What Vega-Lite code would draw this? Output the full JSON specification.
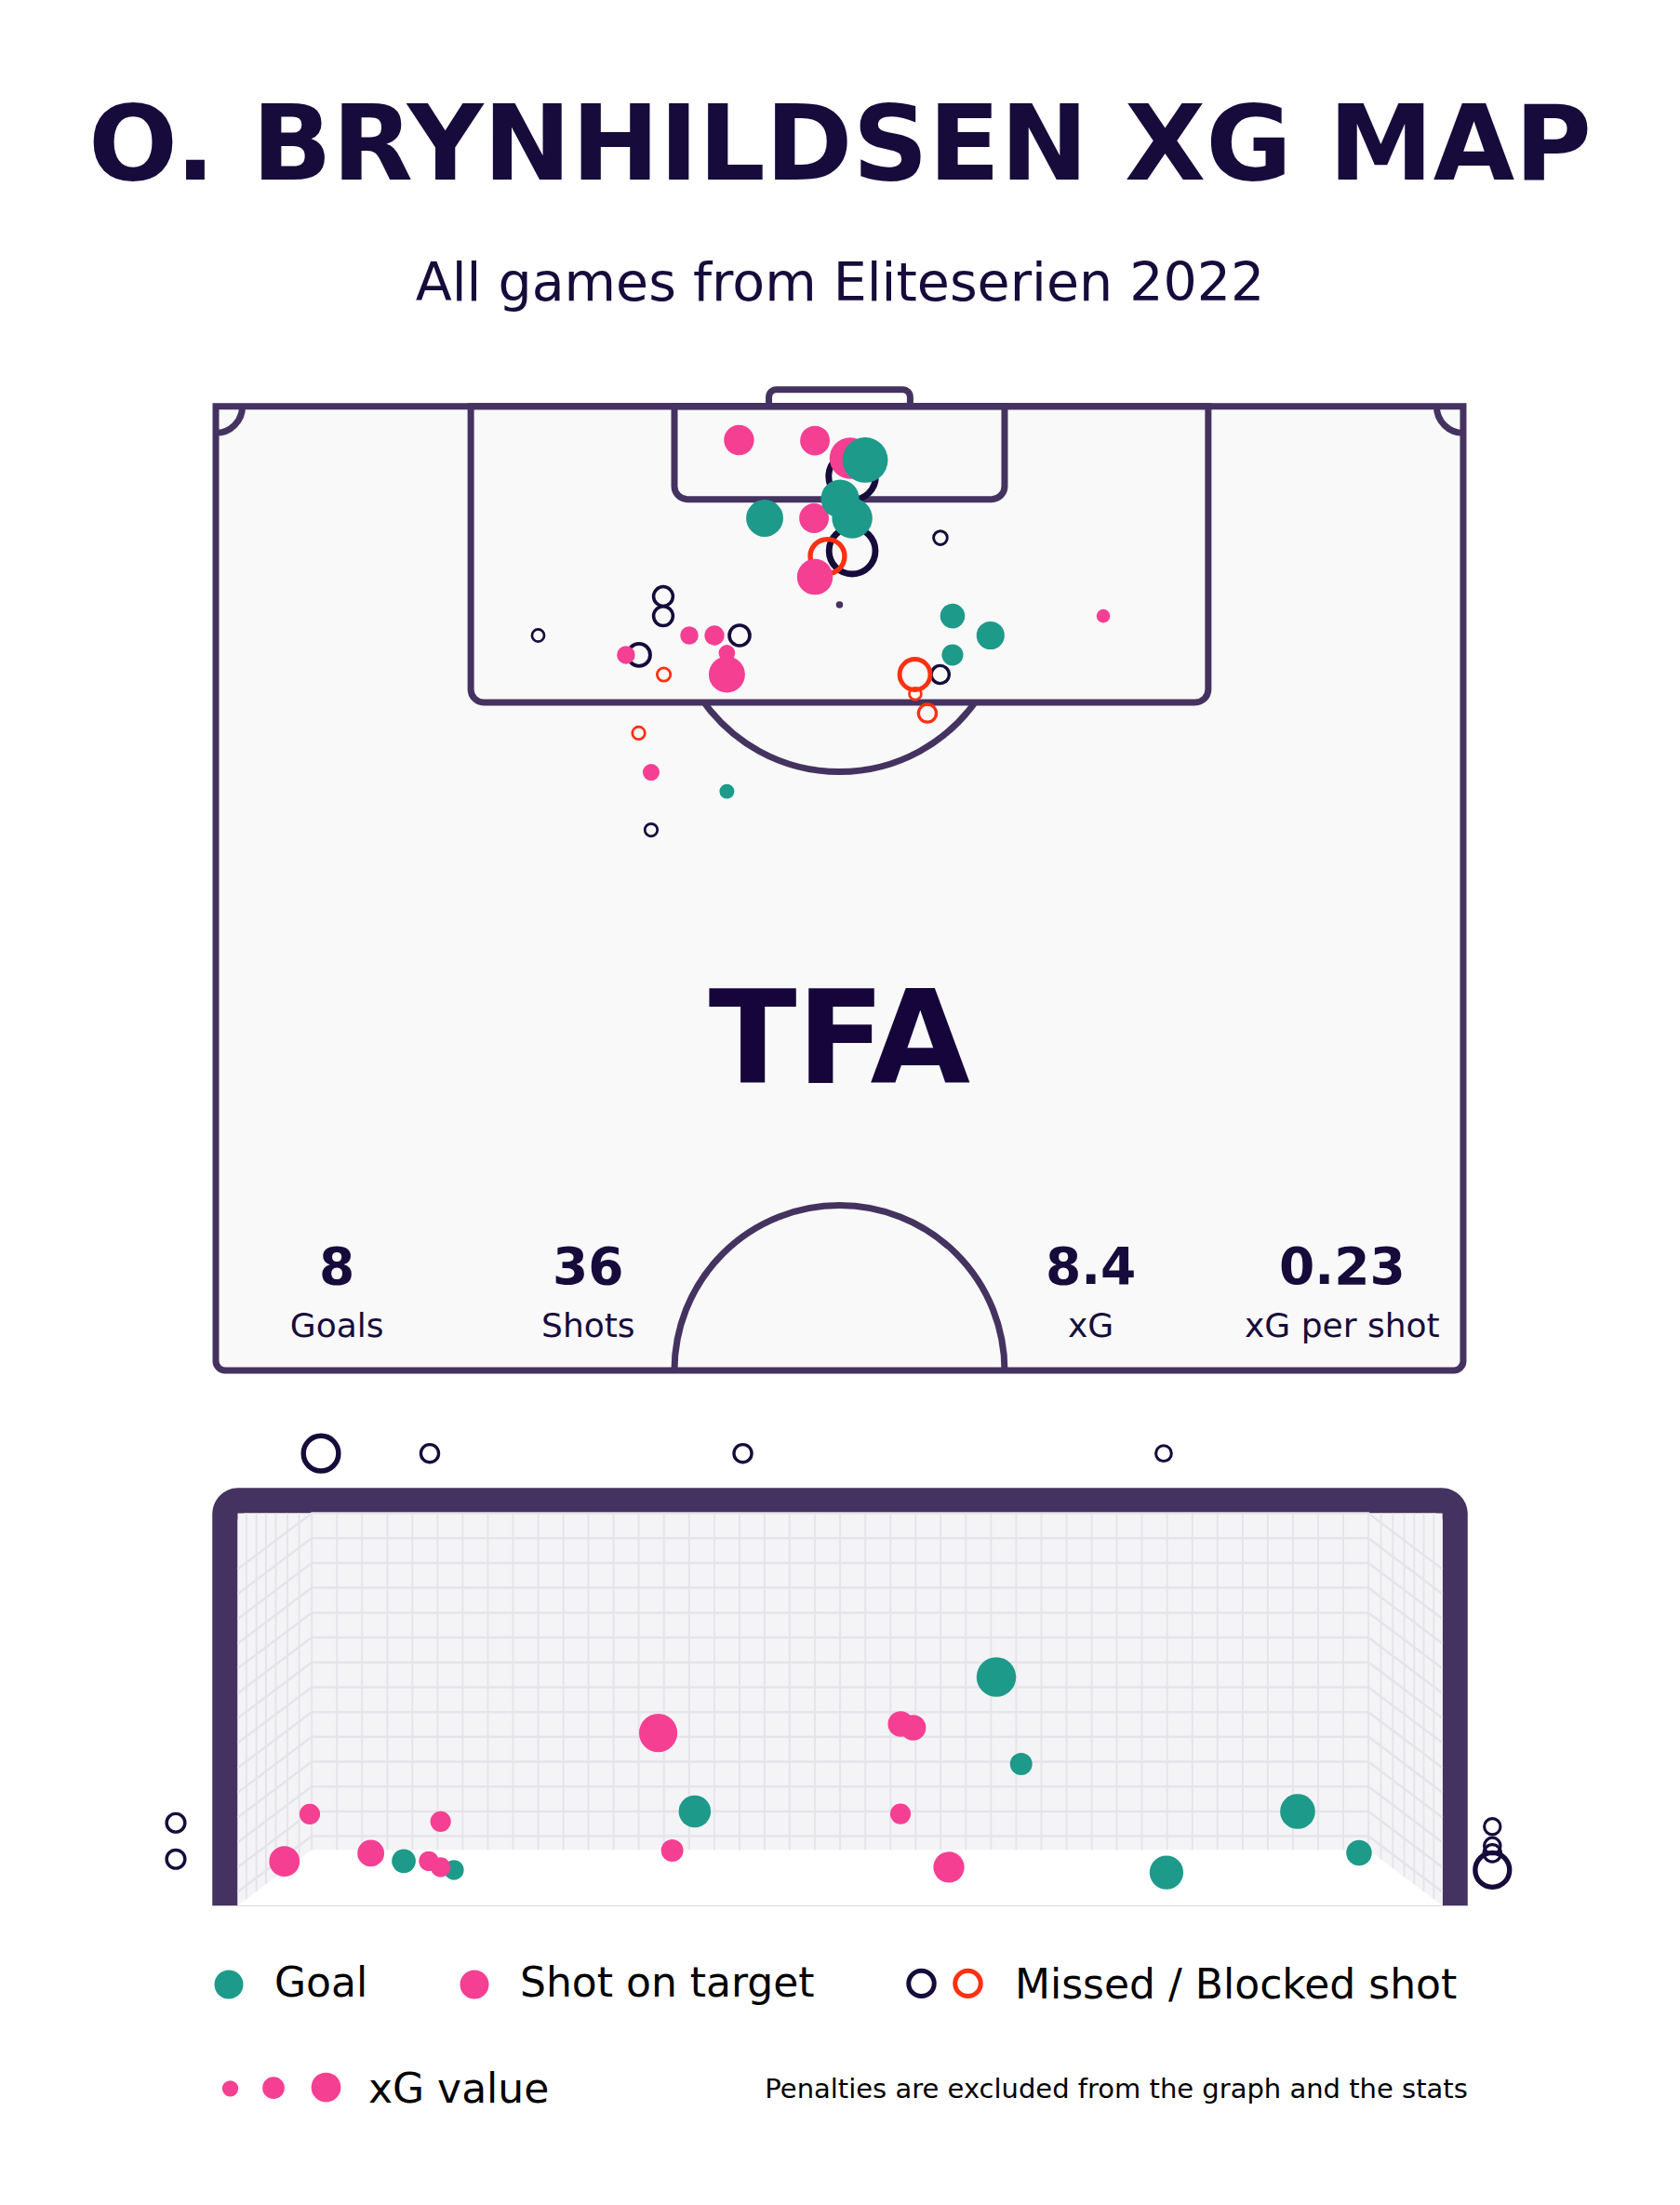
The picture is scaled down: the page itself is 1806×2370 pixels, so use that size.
{
  "$schema": "https://vega.github.io/schema/vega-lite/v6.json",
  "width": 1806,
  "height": 1990,
  "autosize": {"type": "none"},
  "padding": {"left": 0, "top": 380, "right": 0, "bottom": 0},
  "background": "white",
  "title": {
    "text": "O. BRYNHILDSEN XG MAP",
    "subtitle": "All games from Eliteserien 2022",
    "anchor": "middle",
    "font": "DejaVu Sans",
    "fontSize": 113,
    "fontWeight": "bold",
    "color": "#170b3b",
    "subtitleFont": "DejaVu Sans",
    "subtitleFontSize": 57,
    "subtitleFontWeight": "normal",
    "subtitleColor": "#170b3b",
    "subtitlePadding": 61,
    "offset": 45
  },
  "config": {
    "font": "DejaVu Sans",
    "view": {"stroke": null},
    "axis": {"disable": true},
    "legend": {"labelFont": "DejaVu Sans", "titleFont": "DejaVu Sans", "labelColor": "#000000", "titleColor": "#000000", "padding": 0}
  },
  "datasets": {
    "pitch_lines": [
      {"feature": "goal", "x": 30.15, "x2": 37.85, "y": -0.91, "y2": 0},
      {"feature": "pitch", "x": 0, "x2": 68, "y": 0, "y2": 52.55},
      {"feature": "penalty area", "x": 13.9, "x2": 54.1, "y": 0, "y2": 16.14},
      {"feature": "six-yard box", "x": 25.0, "x2": 43.0, "y": 0, "y2": 5.07}
    ],
    "pitch_arcs": [
      {"feature": "penalty arc", "x": 34, "y": 10.82, "r": 9.1, "t1": 2.1955, "t2": 4.0877},
      {"feature": "centre circle", "x": 34, "y": 52.55, "r": 9.0, "t1": -1.5708, "t2": 1.5708},
      {"feature": "corner arc", "x": 0, "y": 0, "r": 1.45, "t1": 1.5708, "t2": 3.1416},
      {"feature": "corner arc", "x": 68, "y": 0, "r": 1.45, "t1": 3.1416, "t2": 4.7124}
    ],
    "pitch_spots": [{"feature": "penalty spot", "x": 34, "y": 10.82}],
    "pitch_labels": [{"logo": "TFA", "x": 34, "y": 36.88}],
    "stats": [
      {"stat": "Goals", "value": "8", "x": 6.6, "y": 47.83},
      {"stat": "Shots", "value": "36", "x": 20.3, "y": 47.83},
      {"stat": "xG", "value": "8.4", "x": 47.7, "y": 47.83},
      {"stat": "xG per shot", "value": "0.23", "x": 61.4, "y": 47.83}
    ],
    "notes": [{"note": "Penalties are excluded from the graph and the stats", "gx": 3.813, "gy": -1.196}],
    "pitch_shots": [
      {"outcome": "Missed", "x": 34.69, "y": 3.82, "xg": 0.685},
      {"outcome": "Missed", "x": 34.69, "y": 7.88, "xg": 0.664},
      {"outcome": "Missed", "x": 24.39, "y": 10.36, "xg": 0.116},
      {"outcome": "Missed", "x": 24.39, "y": 11.43, "xg": 0.116},
      {"outcome": "Missed", "x": 17.57, "y": 12.49, "xg": 0.046},
      {"outcome": "Missed", "x": 28.55, "y": 12.49, "xg": 0.129},
      {"outcome": "Missed", "x": 23.07, "y": 13.55, "xg": 0.154},
      {"outcome": "Missed", "x": 23.73, "y": 23.09, "xg": 0.049},
      {"outcome": "Missed", "x": 39.5, "y": 7.17, "xg": 0.058},
      {"outcome": "Missed", "x": 39.49, "y": 14.62, "xg": 0.098},
      {"outcome": "Blocked", "x": 33.34, "y": 8.18, "xg": 0.364},
      {"outcome": "Blocked", "x": 24.42, "y": 14.62, "xg": 0.055},
      {"outcome": "Blocked", "x": 23.05, "y": 17.81, "xg": 0.049},
      {"outcome": "Blocked", "x": 38.11, "y": 14.62, "xg": 0.289},
      {"outcome": "Blocked", "x": 38.13, "y": 15.67, "xg": 0.044},
      {"outcome": "Blocked", "x": 38.79, "y": 16.73, "xg": 0.098},
      {"outcome": "Shot on target", "x": 28.52, "y": 1.84, "xg": 0.28},
      {"outcome": "Shot on target", "x": 32.66, "y": 1.87, "xg": 0.272},
      {"outcome": "Shot on target", "x": 34.58, "y": 2.83, "xg": 0.526},
      {"outcome": "Shot on target", "x": 32.61, "y": 6.1, "xg": 0.272},
      {"outcome": "Shot on target", "x": 32.66, "y": 9.3, "xg": 0.398},
      {"outcome": "Shot on target", "x": 25.81, "y": 12.49, "xg": 0.102},
      {"outcome": "Shot on target", "x": 27.18, "y": 12.49, "xg": 0.121},
      {"outcome": "Shot on target", "x": 22.36, "y": 13.55, "xg": 0.102},
      {"outcome": "Shot on target", "x": 27.86, "y": 13.45, "xg": 0.084},
      {"outcome": "Shot on target", "x": 27.86, "y": 14.62, "xg": 0.407},
      {"outcome": "Shot on target", "x": 23.73, "y": 19.95, "xg": 0.088},
      {"outcome": "Shot on target", "x": 48.38, "y": 11.43, "xg": 0.057},
      {"outcome": "Goal", "x": 35.4, "y": 2.93, "xg": 0.636},
      {"outcome": "Goal", "x": 29.92, "y": 6.1, "xg": 0.426},
      {"outcome": "Goal", "x": 34.03, "y": 5.04, "xg": 0.454},
      {"outcome": "Goal", "x": 34.69, "y": 6.1, "xg": 0.505},
      {"outcome": "Goal", "x": 27.86, "y": 20.99, "xg": 0.068},
      {"outcome": "Goal", "x": 40.16, "y": 11.43, "xg": 0.189},
      {"outcome": "Goal", "x": 42.23, "y": 12.49, "xg": 0.243},
      {"outcome": "Goal", "x": 40.16, "y": 13.55, "xg": 0.142}
    ],
    "goal_frame": [
      {"part": "frame", "gx": -3.814, "gx2": 3.813, "gy": 0, "gy2": 2.598},
      {"part": "mouth", "gx": -3.66, "gx2": 3.66, "gy": 0, "gy2": 2.44}
    ],
    "net_surface": [
      {"gx": -3.66, "gy": 0, "gy2": 2.44},
      {"gx": -3.21, "gy": 0.347, "gy2": 2.44},
      {"gx": 3.21, "gy": 0.347, "gy2": 2.44},
      {"gx": 3.66, "gy": 0, "gy2": 2.44}
    ],
    "net_strings_vertical": [
      {"gx": -3.607, "gy": 0.041}, {"gx": -3.546, "gy": 0.088}, {"gx": -3.488, "gy": 0.133},
      {"gx": -3.428, "gy": 0.179}, {"gx": -3.358, "gy": 0.233}, {"gx": -3.286, "gy": 0.288},
      {"gx": 3.607, "gy": 0.041}, {"gx": 3.546, "gy": 0.088}, {"gx": 3.488, "gy": 0.133},
      {"gx": 3.428, "gy": 0.179}, {"gx": 3.358, "gy": 0.233}, {"gx": 3.286, "gy": 0.288},
      {"gx": -3.21, "gy": 0.347}, {"gx": -3.057, "gy": 0.347}, {"gx": -2.904, "gy": 0.347},
      {"gx": -2.751, "gy": 0.347}, {"gx": -2.599, "gy": 0.347}, {"gx": -2.446, "gy": 0.347},
      {"gx": -2.293, "gy": 0.347}, {"gx": -2.14, "gy": 0.347}, {"gx": -1.987, "gy": 0.347},
      {"gx": -1.834, "gy": 0.347}, {"gx": -1.681, "gy": 0.347}, {"gx": -1.529, "gy": 0.347},
      {"gx": -1.376, "gy": 0.347}, {"gx": -1.223, "gy": 0.347}, {"gx": -1.07, "gy": 0.347},
      {"gx": -0.917, "gy": 0.347}, {"gx": -0.764, "gy": 0.347}, {"gx": -0.611, "gy": 0.347},
      {"gx": -0.459, "gy": 0.347}, {"gx": -0.306, "gy": 0.347}, {"gx": -0.153, "gy": 0.347},
      {"gx": 0, "gy": 0.347}, {"gx": 0.153, "gy": 0.347}, {"gx": 0.306, "gy": 0.347},
      {"gx": 0.459, "gy": 0.347}, {"gx": 0.611, "gy": 0.347}, {"gx": 0.764, "gy": 0.347},
      {"gx": 0.917, "gy": 0.347}, {"gx": 1.07, "gy": 0.347}, {"gx": 1.223, "gy": 0.347},
      {"gx": 1.376, "gy": 0.347}, {"gx": 1.529, "gy": 0.347}, {"gx": 1.681, "gy": 0.347},
      {"gx": 1.834, "gy": 0.347}, {"gx": 1.987, "gy": 0.347}, {"gx": 2.14, "gy": 0.347},
      {"gx": 2.293, "gy": 0.347}, {"gx": 2.446, "gy": 0.347}, {"gx": 2.599, "gy": 0.347},
      {"gx": 2.751, "gy": 0.347}, {"gx": 2.904, "gy": 0.347}, {"gx": 3.057, "gy": 0.347},
      {"gx": 3.21, "gy": 0.347}
    ],
    "net_strings_horizontal": [
      {"strand": 1, "gx": -3.66, "gy": 2.093}, {"strand": 1, "gx": -3.21, "gy": 2.44}, {"strand": 1, "gx": 3.21, "gy": 2.44}, {"strand": 1, "gx": 3.66, "gy": 2.093},
      {"strand": 2, "gx": -3.66, "gy": 1.939}, {"strand": 2, "gx": -3.21, "gy": 2.286}, {"strand": 2, "gx": 3.21, "gy": 2.286}, {"strand": 2, "gx": 3.66, "gy": 1.939},
      {"strand": 3, "gx": -3.66, "gy": 1.784}, {"strand": 3, "gx": -3.21, "gy": 2.131}, {"strand": 3, "gx": 3.21, "gy": 2.131}, {"strand": 3, "gx": 3.66, "gy": 1.784},
      {"strand": 4, "gx": -3.66, "gy": 1.63}, {"strand": 4, "gx": -3.21, "gy": 1.977}, {"strand": 4, "gx": 3.21, "gy": 1.977}, {"strand": 4, "gx": 3.66, "gy": 1.63},
      {"strand": 5, "gx": -3.66, "gy": 1.475}, {"strand": 5, "gx": -3.21, "gy": 1.822}, {"strand": 5, "gx": 3.21, "gy": 1.822}, {"strand": 5, "gx": 3.66, "gy": 1.475},
      {"strand": 6, "gx": -3.66, "gy": 1.321}, {"strand": 6, "gx": -3.21, "gy": 1.668}, {"strand": 6, "gx": 3.21, "gy": 1.668}, {"strand": 6, "gx": 3.66, "gy": 1.321},
      {"strand": 7, "gx": -3.66, "gy": 1.166}, {"strand": 7, "gx": -3.21, "gy": 1.513}, {"strand": 7, "gx": 3.21, "gy": 1.513}, {"strand": 7, "gx": 3.66, "gy": 1.166},
      {"strand": 8, "gx": -3.66, "gy": 1.012}, {"strand": 8, "gx": -3.21, "gy": 1.359}, {"strand": 8, "gx": 3.21, "gy": 1.359}, {"strand": 8, "gx": 3.66, "gy": 1.012},
      {"strand": 9, "gx": -3.66, "gy": 0.857}, {"strand": 9, "gx": -3.21, "gy": 1.204}, {"strand": 9, "gx": 3.21, "gy": 1.204}, {"strand": 9, "gx": 3.66, "gy": 0.857},
      {"strand": 10, "gx": -3.66, "gy": 0.703}, {"strand": 10, "gx": -3.21, "gy": 1.05}, {"strand": 10, "gx": 3.21, "gy": 1.05}, {"strand": 10, "gx": 3.66, "gy": 0.703},
      {"strand": 11, "gx": -3.66, "gy": 0.548}, {"strand": 11, "gx": -3.21, "gy": 0.895}, {"strand": 11, "gx": 3.21, "gy": 0.895}, {"strand": 11, "gx": 3.66, "gy": 0.548},
      {"strand": 12, "gx": -3.66, "gy": 0.394}, {"strand": 12, "gx": -3.21, "gy": 0.741}, {"strand": 12, "gx": 3.21, "gy": 0.741}, {"strand": 12, "gx": 3.66, "gy": 0.394},
      {"strand": 13, "gx": -3.66, "gy": 0.239}, {"strand": 13, "gx": -3.21, "gy": 0.586}, {"strand": 13, "gx": 3.21, "gy": 0.586}, {"strand": 13, "gx": 3.66, "gy": 0.239},
      {"strand": 14, "gx": -3.66, "gy": 0.085}, {"strand": 14, "gx": -3.21, "gy": 0.432}, {"strand": 14, "gx": 3.21, "gy": 0.432}, {"strand": 14, "gx": 3.66, "gy": 0.085}
    ],
    "goal_shots": [
      {"outcome": "Goal", "gx": -2.651, "gy": 0.277, "xg": 0.177},
      {"outcome": "Goal", "gx": -2.346, "gy": 0.222, "xg": 0.121},
      {"outcome": "Goal", "gx": -0.883, "gy": 0.586, "xg": 0.32},
      {"outcome": "Goal", "gx": 0.949, "gy": 1.422, "xg": 0.484},
      {"outcome": "Goal", "gx": 1.1, "gy": 0.881, "xg": 0.153},
      {"outcome": "Goal", "gx": 1.983, "gy": 0.206, "xg": 0.353},
      {"outcome": "Goal", "gx": 2.78, "gy": 0.586, "xg": 0.38},
      {"outcome": "Goal", "gx": 3.153, "gy": 0.328, "xg": 0.202},
      {"outcome": "Shot on target", "gx": -3.376, "gy": 0.275, "xg": 0.288},
      {"outcome": "Shot on target", "gx": -3.222, "gy": 0.569, "xg": 0.131},
      {"outcome": "Shot on target", "gx": -2.851, "gy": 0.326, "xg": 0.222},
      {"outcome": "Shot on target", "gx": -2.427, "gy": 0.523, "xg": 0.131},
      {"outcome": "Shot on target", "gx": -2.499, "gy": 0.277, "xg": 0.121},
      {"outcome": "Shot on target", "gx": -2.427, "gy": 0.239, "xg": 0.121},
      {"outcome": "Shot on target", "gx": -1.105, "gy": 1.074, "xg": 0.454},
      {"outcome": "Shot on target", "gx": -1.02, "gy": 0.343, "xg": 0.153},
      {"outcome": "Shot on target", "gx": 0.368, "gy": 1.13, "xg": 0.202},
      {"outcome": "Shot on target", "gx": 0.444, "gy": 1.107, "xg": 0.202},
      {"outcome": "Shot on target", "gx": 0.367, "gy": 0.571, "xg": 0.131},
      {"outcome": "Shot on target", "gx": 0.661, "gy": 0.239, "xg": 0.296},
      {"outcome": "Missed", "gx": -3.154, "gy": 2.813, "xg": 0.38},
      {"outcome": "Missed", "gx": -2.493, "gy": 2.813, "xg": 0.098},
      {"outcome": "Missed", "gx": -0.591, "gy": 2.813, "xg": 0.098},
      {"outcome": "Missed", "gx": 1.966, "gy": 2.813, "xg": 0.075},
      {"outcome": "Missed", "gx": -4.036, "gy": 0.515, "xg": 0.104},
      {"outcome": "Missed", "gx": -4.036, "gy": 0.289, "xg": 0.104},
      {"outcome": "Missed", "gx": 3.963, "gy": 0.492, "xg": 0.08},
      {"outcome": "Missed", "gx": 3.963, "gy": 0.372, "xg": 0.082},
      {"outcome": "Missed", "gx": 3.963, "gy": 0.326, "xg": 0.09},
      {"outcome": "Missed", "gx": 3.963, "gy": 0.222, "xg": 0.364}
    ]
  },
  "resolve": {"scale": {"x": "independent", "y": "independent"}},
  "layer": [
    {
      "encoding": {
        "x": {"field": "x", "type": "quantitative", "scale": {"domain": [-11.765, 79.817], "nice": false, "zero": false}},
        "y": {"field": "y", "type": "quantitative", "scale": {"domain": [-2.875, 98.037], "reverse": true, "nice": false, "zero": false}}
      },
      "layer": [
        {
          "data": {"name": "pitch_lines"},
          "transform": [{"filter": "datum.feature === 'goal'"}],
          "mark": {"type": "rect", "fill": "transparent", "stroke": "#443360", "strokeWidth": 7, "cornerRadiusTopLeft": 8, "cornerRadiusTopRight": 8},
          "encoding": {"x2": {"field": "x2"}, "y2": {"field": "y2"}}
        },
        {
          "data": {"name": "pitch_lines"},
          "transform": [{"filter": "datum.feature === 'pitch'"}],
          "mark": {"type": "rect", "fill": "#f9f9f9", "stroke": "#443360", "strokeWidth": 7, "cornerRadiusBottomLeft": 10, "cornerRadiusBottomRight": 10},
          "encoding": {"x2": {"field": "x2"}, "y2": {"field": "y2"}}
        },
        {
          "data": {"name": "pitch_lines"},
          "transform": [{"filter": "datum.feature === 'penalty area' || datum.feature === 'six-yard box'"}],
          "mark": {"type": "rect", "fill": "transparent", "stroke": "#443360", "strokeWidth": 7, "cornerRadiusBottomLeft": 14, "cornerRadiusBottomRight": 14},
          "encoding": {"x2": {"field": "x2"}, "y2": {"field": "y2"}}
        },
        {
          "data": {"name": "pitch_arcs"},
          "mark": {"type": "arc", "fill": "transparent", "stroke": "#443360", "strokeWidth": 7},
          "encoding": {
            "theta": {"field": "t1", "type": "quantitative", "scale": null, "stack": null},
            "theta2": {"field": "t2"},
            "radius": {"field": "r", "type": "quantitative", "scale": {"type": "linear", "domain": [0, 10], "range": [0, 197.2], "zero": true, "nice": false}},
            "radius2": {"field": "r"}
          }
        },
        {
          "data": {"name": "pitch_spots"},
          "mark": {"type": "point", "shape": "circle", "filled": true, "color": "#443360", "size": 57, "opacity": 1}
        },
        {
          "data": {"name": "pitch_labels"},
          "mark": {"type": "text", "font": "DejaVu Sans", "fontWeight": "bold", "fontSize": 139, "letterSpacing": -20, "color": "#16053a", "align": "center", "baseline": "alphabetic"},
          "encoding": {"text": {"field": "logo", "type": "nominal"}}
        },
        {
          "data": {"name": "stats"},
          "mark": {"type": "text", "font": "DejaVu Sans", "fontWeight": "bold", "fontSize": 55, "color": "#170b3b", "align": "center", "baseline": "alphabetic"},
          "encoding": {"text": {"field": "value", "type": "nominal"}}
        },
        {
          "data": {"name": "stats"},
          "mark": {"type": "text", "font": "DejaVu Sans", "fontSize": 36, "color": "#170b3b", "align": "center", "baseline": "alphabetic", "dy": 57},
          "encoding": {"text": {"field": "stat", "type": "nominal"}}
        },
        {
          "data": {"name": "pitch_shots"},
          "transform": [{"filter": "datum.outcome === 'Missed' || datum.outcome === 'Blocked'"}],
          "mark": {"type": "point", "shape": "circle", "filled": false, "fill": "transparent", "opacity": 1},
          "encoding": {
            "stroke": {
              "field": "outcome", "type": "nominal",
              "scale": {"domain": ["Missed", "Blocked"], "range": ["#170b3b", "#fe3012"]},
              "legend": {
                "orient": "none", "legendX": 974, "legendY": 1735, "direction": "horizontal",
                "title": "Missed / Blocked shot", "titleOrient": "right", "titleLimit": 1000,
                "titleFontSize": 44, "titleFontWeight": "normal", "titlePadding": 27,
                "symbolType": "circle", "symbolSize": 755, "symbolStrokeWidth": 5,
                "labelExpr": "''", "labelFontSize": 1, "labelOffset": 0, "columnPadding": 1, "labelLimit": 2000,
                "encode": {"symbols": {"update": {"fill": {"value": "transparent"}, "strokeWidth": {"value": 5}, "opacity": {"value": 1}}}}
              }
            },
            "size": {
              "field": "xg", "type": "quantitative",
              "scale": {"type": "linear", "domain": [0, 1], "range": [0, 3736], "zero": true, "nice": false}
            },
            "strokeWidth": {"field": "xg", "type": "quantitative", "scale": {"type": "sqrt", "domain": [0, 1], "range": [1.2, 8.1], "zero": false}, "legend": null}
          }
        },
        {
          "data": {"name": "pitch_shots"},
          "transform": [{"filter": "datum.outcome === 'Goal' || datum.outcome === 'Shot on target'"}],
          "mark": {"type": "point", "shape": "circle", "filled": true, "opacity": 1, "strokeWidth": 0},
          "encoding": {
            "fill": {
              "field": "outcome", "type": "nominal",
              "scale": {"domain": ["Goal", "Shot on target"], "range": ["#1d9a8a", "#f53f93"]},
              "legend": {
                "orient": "none", "legendX": 224, "legendY": 1731, "direction": "horizontal", "title": null,
                "symbolType": "circle", "symbolSize": 962, "labelFontSize": 44, "labelOffset": 27,
                "columnPadding": 92, "labelLimit": 2000,
                "encode": {"symbols": {"update": {"strokeWidth": {"value": 0}, "opacity": {"value": 1}}}}
              }
            },
            "size": {
              "field": "xg", "type": "quantitative",
              "scale": {"type": "linear", "domain": [0, 1], "range": [0, 3736], "zero": true, "nice": false},
              "legend": {
                "orient": "none", "legendX": 237, "legendY": 1845, "direction": "horizontal",
                "values": [0.08, 0.15, 0.27], "title": "xG value", "titleOrient": "right", "titleLimit": 1000,
                "titleFontSize": 44, "titleFontWeight": "normal", "titlePadding": 20,
                "labelExpr": "''", "labelOffset": 0, "labelFontSize": 1, "columnPadding": 11, "symbolType": "circle",
                "symbolFillColor": "#f53f93", "symbolStrokeColor": "#f53f93", "symbolStrokeWidth": 0, "symbolOpacity": 1,
                "encode": {"symbols": {"update": {"fill": {"value": "#f53f93"}, "strokeWidth": {"value": 0}, "opacity": {"value": 1}}}}
              }
            }
          }
        }
      ]
    },
    {
      "encoding": {
        "x": {"field": "gx", "type": "quantitative", "scale": {"domain": [-5.104, 5.103], "nice": false, "zero": false}},
        "y": {"field": "gy", "type": "quantitative", "scale": {"domain": [-1.862, 9.654], "nice": false, "zero": false}}
      },
      "layer": [
        {
          "data": {"name": "goal_frame"},
          "transform": [{"filter": "datum.part === 'frame'"}],
          "mark": {"type": "rect", "color": "#443360", "cornerRadiusTopLeft": 28, "cornerRadiusTopRight": 28},
          "encoding": {"x2": {"field": "gx2"}, "y2": {"field": "gy2"}}
        },
        {
          "data": {"name": "goal_frame"},
          "transform": [{"filter": "datum.part === 'mouth'"}],
          "mark": {"type": "rect", "color": "#ffffff", "cornerRadiusTopLeft": 8, "cornerRadiusTopRight": 8},
          "encoding": {"x2": {"field": "gx2"}, "y2": {"field": "gy2"}}
        },
        {
          "data": {"name": "net_surface"},
          "mark": {"type": "area", "color": "#f4f4f6", "opacity": 1},
          "encoding": {"y2": {"field": "gy2"}}
        },
        {
          "data": {"name": "net_strings_vertical"},
          "mark": {"type": "rule", "color": "#e5e4ea", "strokeWidth": 2},
          "encoding": {"y2": {"datum": 2.44}}
        },
        {
          "data": {"name": "net_strings_horizontal"},
          "mark": {"type": "line", "color": "#e5e4ea", "strokeWidth": 2.5},
          "encoding": {"detail": {"field": "strand", "type": "nominal"}}
        },
        {
          "data": {"name": "goal_shots"},
          "transform": [{"filter": "datum.outcome === 'Goal' || datum.outcome === 'Shot on target'"}],
          "mark": {"type": "point", "shape": "circle", "filled": true, "opacity": 1, "strokeWidth": 0},
          "encoding": {
            "fill": {"field": "outcome", "type": "nominal", "scale": {"domain": ["Goal", "Shot on target"], "range": ["#1d9a8a", "#f53f93"]}},
            "size": {"field": "xg", "type": "quantitative", "scale": {"type": "linear", "domain": [0, 1], "range": [0, 3736], "zero": true, "nice": false}}
          }
        },
        {
          "data": {"name": "goal_shots"},
          "transform": [{"filter": "datum.outcome === 'Missed'"}],
          "mark": {"type": "point", "shape": "circle", "filled": false, "fill": "transparent", "opacity": 1},
          "encoding": {
            "stroke": {"field": "outcome", "type": "nominal", "scale": {"domain": ["Missed", "Blocked"], "range": ["#170b3b", "#fe3012"]}},
            "size": {"field": "xg", "type": "quantitative", "scale": {"type": "linear", "domain": [0, 1], "range": [0, 3736], "zero": true, "nice": false}},
            "strokeWidth": {"field": "xg", "type": "quantitative", "scale": {"type": "sqrt", "domain": [0, 1], "range": [1.2, 8.1], "zero": false}, "legend": null}
          }
        },
        {
          "data": {"name": "notes"},
          "mark": {"type": "text", "font": "DejaVu Sans", "align": "right", "baseline": "alphabetic", "fontSize": 29, "color": "#000000"},
          "encoding": {"text": {"field": "note", "type": "nominal"}}
        }
      ]
    }
  ]
}
